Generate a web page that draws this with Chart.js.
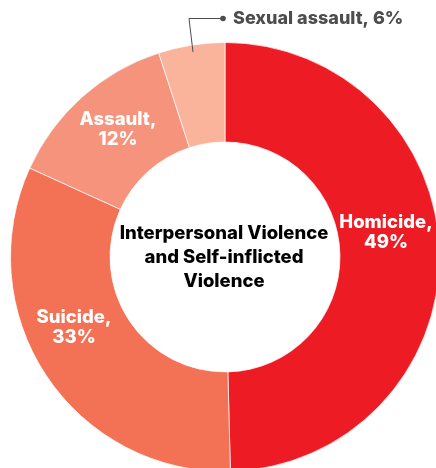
<!DOCTYPE html>
<html>
<head>
<meta charset="utf-8">
<script src="https://cdn.jsdelivr.net/npm/chart.js@4"></script>
<style>
  html, body { margin: 0; padding: 0; background: #fff; overflow: hidden; width: 436px; height: 468px; }
  #c { position: absolute; left: 0; top: 0; }
</style>
</head>
<body>
<canvas id="c" width="450" height="514"></canvas>
<script>
// ---- data ----
const categories = ["Homicide", "Suicide", "Assault", "Sexual assault"];
const shares = [49.6, 32.2, 13.2, 5.0];          // slice sizes as drawn
const pctLabels = ["49%", "33%", "12%", "6%"];    // printed percentages
const colors = ["#ED1C24", "#F37155", "#F5937D", "#F9B49B"];
const centerTitle = ["Interpersonal Violence", "and Self-inflicted", "Violence"];

const FONT = "Inter, 'Liberation Sans', Arial, sans-serif";

// label placement relative to the doughnut centre (px)
const labelPos = {
  Homicide: { dx: 161, dy: -25 },
  Suicide:  { dx: -151, dy: 70 },
  Assault:  { dx: -107, dy: -128 }
};

const labelsPlugin = {
  id: 'labelsPlugin',
  afterDraw(chart) {
    const ctx = chart.ctx;
    const arc = chart.getDatasetMeta(0).data[0];
    const cx = arc.x, cy = arc.y;
    ctx.save();
    ctx.textBaseline = 'middle';
    ctx.textAlign = 'center';
    // slice labels (white)
    ctx.fillStyle = '#ffffff';
    ctx.font = "800 18.5px " + FONT;
    categories.forEach((cat, i) => {
      const p = labelPos[cat];
      if (!p) return;
      ctx.fillText(cat + ",", cx + p.dx, cy + p.dy - 10);
      ctx.fillText(pctLabels[i], cx + p.dx, cy + p.dy + 10);
    });
    // centre title
    ctx.fillStyle = '#000000';
    ctx.font = "800 18.5px " + FONT;
    centerTitle.forEach((t, k) => {
      ctx.fillText(t, cx - 1, cy - 24 + k * 24);
    });
    // sexual assault callout
    const i = 3;
    ctx.strokeStyle = '#4D4D4F';
    ctx.fillStyle = '#4D4D4F';
    ctx.lineWidth = 1;
    ctx.beginPath();
    ctx.moveTo(cx - 2, cy - 238.5);
    ctx.lineTo(cx - 36, cy - 238.5);
    ctx.lineTo(cx - 32, cy - 205);
    ctx.stroke();
    ctx.beginPath();
    ctx.arc(cx - 2, cy - 238.5, 2.8, 0, Math.PI * 2);
    ctx.fill();
    ctx.textAlign = 'left';
    ctx.font = "800 18px " + FONT;
    ctx.fillText(categories[i] + ", " + pctLabels[i], cx + 8, cy - 238);
    ctx.restore();
  }
};

new Chart(document.getElementById('c'), {
  type: 'doughnut',
  data: {
    labels: categories,
    datasets: [{
      data: shares,
      backgroundColor: colors,
      borderColor: 'rgba(255,255,255,0.7)',
      borderWidth: 1
    }]
  },
  options: {
    responsive: false,
    animation: false,
    cutout: '53.6%',
    layout: { padding: { left: 10, top: 42, right: 10, bottom: 42 } },
    plugins: { legend: { display: false }, tooltip: { enabled: false } }
  },
  plugins: [labelsPlugin]
});
</script>
</body>
</html>
